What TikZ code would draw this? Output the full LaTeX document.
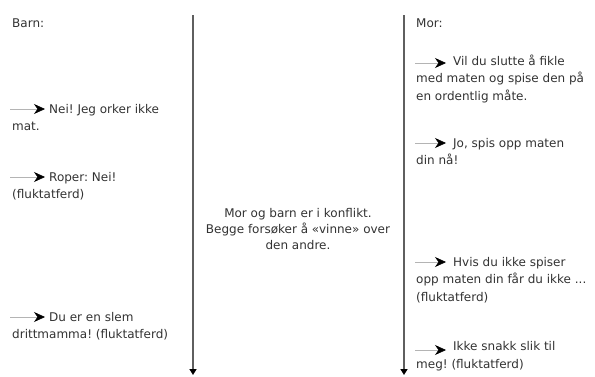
\documentclass[tikz,border=0pt]{standalone}
\usepackage{fontspec}
\setmainfont{DejaVu Sans}
\usetikzlibrary{arrows.meta}
\definecolor{txtgray}{RGB}{50,50,50}
\definecolor{linegray}{RGB}{95,95,95}
\definecolor{pilgray}{RGB}{180,180,180}
\frenchspacing

\begin{document}
\begin{tikzpicture}[
x = 1pt, y = -1pt,
txtnode/.style={anchor = base west, align = left, inner sep = 0, text = txtgray, 
font = \fontsize{12}{17.5}\selectfont},
midnode/.style={align = center, inner sep = 0, text = txtgray, 
font = \fontsize{12}{16}\selectfont},
timearr/.style={-{Triangle[length = 6pt, width = 7pt, color = black]}, line width = 1.5, draw = linegray},
pilarr/.style={-{Stealth[length = 11pt, width = 10pt, inset = 3.5pt, color = black]}, line width = 0.6, draw = pilgray}]

\useasboundingbox (0,0) rectangle (595,376);

% tidslinjer
\coordinate (barntop) at (193,15);
\coordinate (barnbot) at (193,375);
\coordinate (mortop) at (404,15);
\coordinate (morbot) at (404,375);
\draw[timearr] (barntop) -- (barnbot);
\draw[timearr] (mortop) -- (morbot);

\node[midnode] (konflikt) at (298,229) {Mor og barn er i konflikt.\\Begge fors\o ker \aa{} «vinne» over\\den andre.};

% barn (nodene står på siste linjes grunnlinje)
\node[txtnode] (barn) at (12,27) {Barn:};

\node[txtnode] (B1) at (12,130.5) {\hspace*{37pt}Nei! Jeg orker ikke\\mat.};
\coordinate (B1s) at (10,109);
\coordinate (B1e) at (45,109);
\draw[pilarr] (B1s) -- (B1e);

\node[txtnode] (B2) at (12,198.5) {\hspace*{37pt}Roper: Nei!\\(fluktatferd)};
\coordinate (B2s) at (10,177);
\coordinate (B2e) at (45,177);
\draw[pilarr] (B2s) -- (B2e);

\node[txtnode] (B3) at (12,338.5) {\hspace*{37pt}Du er en slem\\drittmamma! (fluktatferd)};
\coordinate (B3s) at (10,317);
\coordinate (B3e) at (45,317);
\draw[pilarr] (B3s) -- (B3e);

% mor
\node[txtnode] (mor) at (416,27) {Mor:};

\node[txtnode] (M1) at (416,100) {\hspace*{37pt}Vil du slutte \aa{} fikle\\med maten og spise den p\aa\\en ordentlig m\aa te.};
\coordinate (M1s) at (415,63);
\coordinate (M1e) at (446,63);
\draw[pilarr] (M1s) -- (M1e);

\node[txtnode] (M2) at (416,164.5) {\hspace*{37pt}Jo, spis opp maten\\din n\aa!};
\coordinate (M2s) at (415,143);
\coordinate (M2e) at (446,143);
\draw[pilarr] (M2s) -- (M2e);

\node[txtnode] (M3) at (416,301) {\hspace*{37pt}Hvis du ikke spiser\\opp maten din f\aa r du ikke ...\\(fluktatferd)};
\coordinate (M3s) at (415,262);
\coordinate (M3e) at (446,262);
\draw[pilarr] (M3s) -- (M3e);

\node[txtnode] (M4) at (416,368) {\hspace*{37pt}Ikke snakk slik til\\meg! (fluktatferd)};
\coordinate (M4s) at (415,350);
\coordinate (M4e) at (446,350);
\draw[pilarr] (M4s) -- (M4e);
\end{tikzpicture}
\end{document}
